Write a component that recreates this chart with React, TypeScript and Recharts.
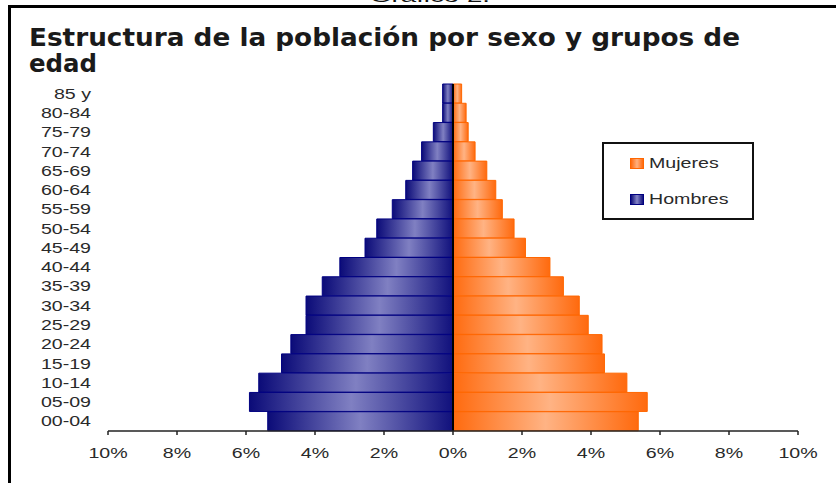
import { Bar, BarChart, ReferenceLine, XAxis, YAxis } from "recharts";

const AGES = ["85 y", "80-84", "75-79", "70-74", "65-69", "60-64", "55-59", "50-54", "45-49", "40-44", "35-39", "30-34", "25-29", "20-24", "15-19", "10-14", "05-09", "00-04"];
const HOMBRES = [0.3, 0.3, 0.57, 0.91, 1.17, 1.37, 1.76, 2.21, 2.55, 3.28, 3.79, 4.26, 4.26, 4.7, 4.97, 5.63, 5.9, 5.37];
const MUJERES = [0.25, 0.38, 0.44, 0.64, 0.98, 1.24, 1.43, 1.77, 2.1, 2.81, 3.2, 3.66, 3.92, 4.32, 4.39, 5.04, 5.63, 5.37];
const X_TICKS = [-10, -8, -6, -4, -2, 0, 2, 4, 6, 8, 10];

const TITLE_1 = "Estructura de la población por sexo y grupos de";
const TITLE_2 = "edad";
const CAPTION = "Gráfico 2.";

// legend order as in the picture: women first
const SERIES = [
  { name: "Mujeres", swatch: "linear-gradient(90deg, #ff6a0e, #ffb07e 50%, #ff6a0e)", border: "#ff6600" },
  { name: "Hombres", swatch: "linear-gradient(90deg, #0b0b78, #8484c6 50%, #10107c)", border: "#000080" },
];

const data = AGES.map((age, i) => ({ age, hombres: -HOMBRES[i], mujeres: MUJERES[i] }));

const FONT = "'Liberation Sans', Arial, sans-serif";
const TITLE_FONT = "'DejaVu Sans', Verdana, sans-serif";
const STRETCH = 1.4;

function YTick(props: any) {
  const { x, y, payload } = props;
  return (
    <text
      transform={`translate(${x},${y}) scale(${STRETCH},1)`}
      textAnchor="end"
      dy="0.36em"
      fontFamily={FONT}
      fontSize={14}
      fill="#2a2a2a"
    >
      {payload.value}
    </text>
  );
}

function XTick(props: any) {
  const { x, y, payload } = props;
  return (
    <text
      transform={`translate(${x},${y}) scale(${STRETCH},1)`}
      textAnchor="middle"
      dy="0.71em"
      fontFamily={FONT}
      fontSize={14}
      fill="#2a2a2a"
    >
      {Math.abs(payload.value)}%
    </text>
  );
}

export default function App() {
  return (
    <div style={{ position: "absolute", left: 0, top: 0, width: 836, height: 483, background: "#fff", overflow: "hidden" }}>
      <BarChart
        width={836}
        height={483}
        data={data}
        layout="vertical"
        stackOffset="sign"
        barCategoryGap={0}
        margin={{ top: 84, right: 38, bottom: 0, left: 0 }}
      >
        <defs>
          <linearGradient id="gHombres" x1="0" y1="0" x2="1" y2="0">
            <stop offset="0%" stopColor="#0b0b78" />
            <stop offset="50%" stopColor="#8080c2" />
            <stop offset="100%" stopColor="#10107c" />
          </linearGradient>
          <linearGradient id="gMujeres" x1="0" y1="0" x2="1" y2="0">
            <stop offset="0%" stopColor="#ff6a0e" />
            <stop offset="50%" stopColor="#ffb384" />
            <stop offset="100%" stopColor="#ff6a0e" />
          </linearGradient>
        </defs>
        <XAxis
          type="number"
          domain={[-10, 10]}
          ticks={X_TICKS}
          height={52}
          axisLine={{ stroke: "#222", strokeWidth: 1.5 }}
          tickLine={{ stroke: "#222", strokeWidth: 1.5 }}
          tickSize={4}
          tickMargin={13}
          tick={<XTick />}
          interval={0}
        />
        <YAxis
          type="category"
          dataKey="age"
          width={108}
          axisLine={false}
          tickLine={false}
          tickSize={0}
          tickMargin={17}
          tick={<YTick />}
          interval={0}
        />
        <Bar dataKey="hombres" name="Hombres" stackId="p" fill="url(#gHombres)" stroke="#000080" strokeWidth={1} isAnimationActive={false} />
        <Bar dataKey="mujeres" name="Mujeres" stackId="p" fill="url(#gMujeres)" stroke="#ff6600" strokeWidth={1} isAnimationActive={false} />
        <ReferenceLine x={0} stroke="#000" strokeWidth={2} />
      </BarChart>

      <svg width={836} height={483} style={{ position: "absolute", left: 0, top: 0, pointerEvents: "none" }}>
        <text x={430} y={2} textAnchor="middle" fontFamily={FONT} fontSize={17} fill="#111" textLength={120} lengthAdjust="spacingAndGlyphs">
          {CAPTION}
        </text>
        <line x1={8} y1={6.5} x2={836} y2={6.5} stroke="#000" strokeWidth={3} />
        <line x1={9.5} y1={5} x2={9.5} y2={483} stroke="#000" strokeWidth={3} />
        <text x={29} y={46} fontFamily={TITLE_FONT} fontStretch="condensed" fontWeight="bold" fontSize={24} fill="#1a1a1a" textLength={711} lengthAdjust="spacingAndGlyphs">
          {TITLE_1}
        </text>
        <text x={29} y={72} fontFamily={TITLE_FONT} fontStretch="condensed" fontWeight="bold" fontSize={24} fill="#1a1a1a" textLength={68} lengthAdjust="spacingAndGlyphs">
          {TITLE_2}
        </text>
      </svg>

      <div
        style={{
          position: "absolute",
          left: 602,
          top: 142,
          width: 148,
          height: 74,
          border: "2px solid #111",
          background: "#fff",
        }}
      >
        {SERIES.map((s, i) => (
          <div key={s.name} style={{ position: "absolute", left: 26, top: 12 + i * 36, height: 14, display: "flex", alignItems: "center" }}>
            <span style={{ width: 12, height: 9, background: s.swatch, border: `1px solid ${s.border}`, display: "inline-block" }} />
            <span
              style={{
                marginLeft: 5,
                fontFamily: FONT,
                fontSize: 14,
                color: "#2a2a2a",
                display: "inline-block",
                transform: `scaleX(${STRETCH})`,
                transformOrigin: "left center",
                lineHeight: "14px",
              }}
            >
              {s.name}
            </span>
          </div>
        ))}
      </div>
    </div>
  );
}
